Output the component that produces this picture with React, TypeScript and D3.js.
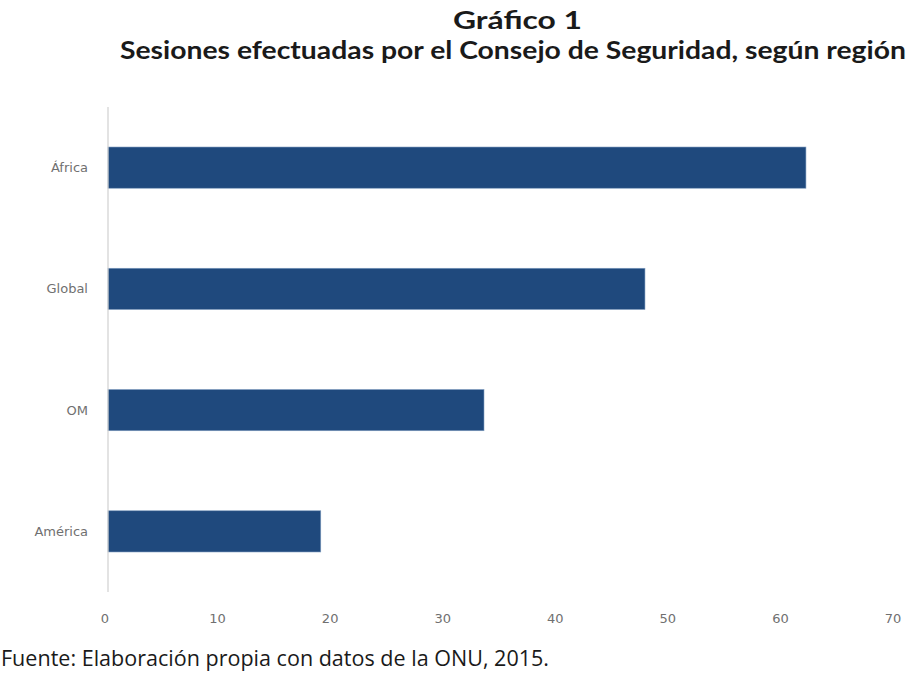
import { useEffect, useRef } from "react";
import * as d3 from "d3";

const categories: string[] = ["África", "Global", "OM", "América"];
const sessions: number[] = [62, 47.7, 33.4, 18.9];
const xTicks: number[] = [0, 10, 20, 30, 40, 50, 60, 70];

function App() {
  const svgRef = useRef<SVGSVGElement>(null);

  useEffect(() => {
    if (!svgRef.current) return;
    const svg = d3.select(svgRef.current);
    svg.selectAll("*").remove();

    const width = 909;
    const height = 675;
    svg.attr("width", width).attr("height", height);

    // plot area
    const margin = { top: 107, left: 108, right: 12, bottom: 83 };
    const innerHeight = height - margin.top - margin.bottom;

    const x = d3.scaleLinear().domain([0, 70]).range([margin.left, 896]);
    const y = d3
      .scaleBand()
      .domain(categories)
      .range([margin.top, margin.top + innerHeight])
      .paddingInner(0.66)
      .paddingOuter(0.33);

    svg.append("rect").attr("width", width).attr("height", height).attr("fill", "#ffffff");

    // titles
    svg
      .append("text")
      .attr("x", 453)
      .attr("y", 29)
      .attr("textLength", 129)
      .attr("lengthAdjust", "spacingAndGlyphs")
      .attr("font-family", "Lato, 'Open Sans', sans-serif")
      .attr("font-weight", "bold")
      .attr("font-size", 24)
      .attr("fill", "#1a1a1a")
      .text("Gráfico 1");

    svg
      .append("text")
      .attr("x", 120)
      .attr("y", 59)
      .attr("textLength", 786)
      .attr("lengthAdjust", "spacingAndGlyphs")
      .attr("font-family", "Lato, 'Open Sans', sans-serif")
      .attr("font-weight", "bold")
      .attr("font-size", 24)
      .attr("fill", "#1a1a1a")
      .text("Sesiones efectuadas por el Consejo de Seguridad, según región");

    // bars
    svg
      .selectAll(".bar")
      .data(sessions)
      .join("rect")
      .attr("class", "bar")
      .attr("x", x(0))
      .attr("y", (_, i) => y(categories[i])!)
      .attr("width", (d) => x(d) - x(0))
      .attr("height", y.bandwidth())
      .attr("fill", "#1f497d")
      .attr("stroke", "#7f9cbf")
      .attr("stroke-width", 0.6);

    // y axis line
    svg
      .append("line")
      .attr("x1", x(0))
      .attr("x2", x(0))
      .attr("y1", margin.top)
      .attr("y2", margin.top + innerHeight)
      .attr("stroke", "#d0d0d0")
      .attr("stroke-width", 1.2);

    // category labels
    svg
      .selectAll(".cat")
      .data(categories)
      .join("text")
      .attr("class", "cat")
      .attr("x", 88)
      .attr("y", (d) => y(d)! + y.bandwidth() / 2)
      .attr("dy", "0.35em")
      .attr("text-anchor", "end")
      .attr("font-family", "'DejaVu Sans', sans-serif")
      .attr("font-size", 13)
      .attr("fill", "#707070")
      .text((d) => d);

    // x tick labels
    svg
      .selectAll(".tick")
      .data(xTicks)
      .join("text")
      .attr("class", "tick")
      .attr("x", (d) => x(d) - 3)
      .attr("y", 618)
      .attr("dy", "0.35em")
      .attr("text-anchor", "middle")
      .attr("font-family", "'DejaVu Sans', sans-serif")
      .attr("font-size", 13)
      .attr("fill", "#707070")
      .text((d) => d);

    // source
    svg
      .append("text")
      .attr("x", 1)
      .attr("y", 666)
      .attr("textLength", 548)
      .attr("lengthAdjust", "spacingAndGlyphs")
      .attr("font-family", "'Open Sans', sans-serif")
      .attr("font-size", 21)
      .attr("fill", "#1a1a1a")
      .text("Fuente: Elaboración propia con datos de la ONU, 2015.");
  }, []);

  return (
    <svg
      ref={svgRef}
      style={{ position: "absolute", left: 0, top: 0, display: "block" }}
    ></svg>
  );
}

export default App;
